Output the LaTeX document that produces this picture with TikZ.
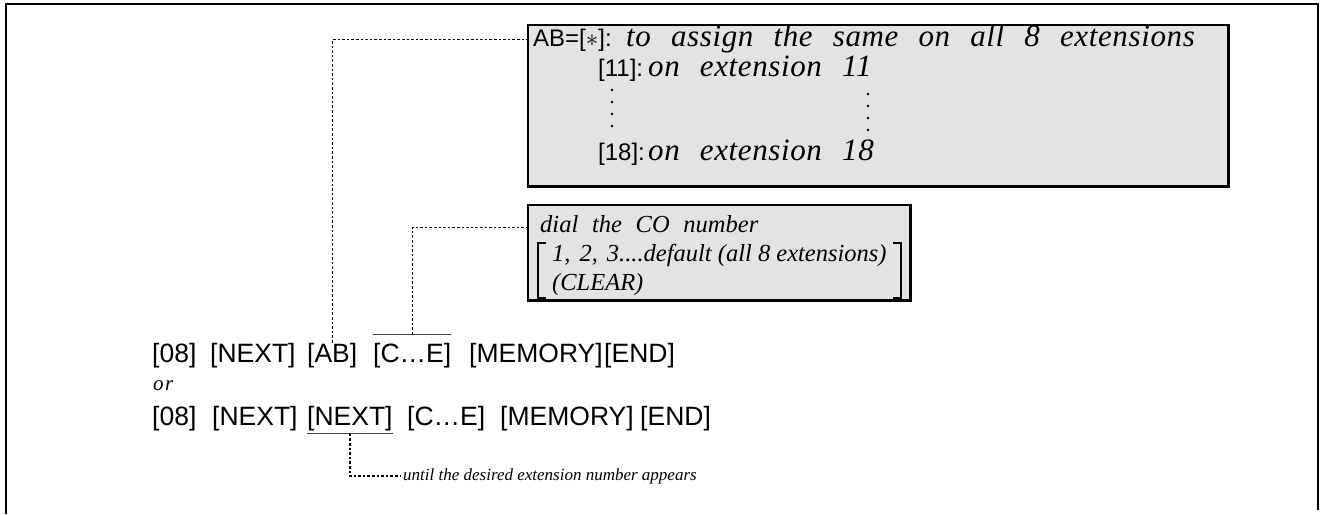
\documentclass[tikz,border=0pt]{standalone}
\usepackage{fontspec}
\setmainfont{Liberation Serif}
\newfontfamily\keyfont{Liberation Sans}
\newfontfamily\notefont[LetterSpace=2]{Liberation Serif}
\newcommand\widespace[1]{\spaceskip=#1em\relax}
\usetikzlibrary{positioning}

\begin{document}
\begin{tikzpicture}[
  x=1pt,y=-1pt,
  key/.style={font=\keyfont\fontsize{26.5}{30}\selectfont,inner sep=0pt,anchor=base west},
  boxkey/.style={font=\keyfont\fontsize{24}{28}\selectfont,inner sep=0pt,anchor=base west},
  note/.style={font=\notefont\itshape\fontsize{31}{30}\selectfont\widespace{0.65},inner sep=0pt,anchor=base west},
  coline/.style={font=\itshape\fontsize{24.5}{28}\selectfont,inner sep=0pt,anchor=base west},
  hint/.style={font=\itshape\fontsize{17}{20}\selectfont,inner sep=0pt,anchor=base west},
  panel/.style={draw,line width=1.3pt,fill=gray!22,inner sep=0pt},
  leader/.style={line width=1.3pt,dash pattern=on 2.6pt off 2pt},
  keyrule/.style={line width=1.2pt,black!75}
]
\useasboundingbox (0,0) rectangle (1322,514);
% frame, open at the bottom
\draw[line width=1.8pt] (6,514) -- (6,4) -- (1318,4) -- (1318,510);

% the two option panels
\node[panel,minimum width=700pt,minimum height=161pt] (abbox) at (878,105.5) {};
\draw[line width=2.4pt] (abbox.north east) -- (abbox.south east) -- (abbox.south west);
\node[panel,minimum width=382pt,minimum height=95pt] (cobox) at (719,252.5) {};
\draw[line width=2.4pt] (cobox.north east) -- (cobox.south east) -- (cobox.south west);

% AB panel
\node[boxkey,inner xsep=5pt] (abl) at (528,46) {AB=[{\fontsize{30}{30}\selectfont$\ast$}]:};
\node[note] (assign) at (626,46) {to assign the same on all 8 extensions};
\node[boxkey] (k11) at (598,76) {[11]:};
\node[note] (on11) at (648,76) {on extension 11};
% vertical ellipses between [11] and [18]
\foreach \y in {90,102,114,126} {
  \fill (612,\y) circle[radius=1.3pt];
  \fill (868,\y+4) circle[radius=1.3pt];
}
\node[boxkey] (k18) at (598,160) {[18]:};
\node[note] (on18) at (648,160) {on extension 18};

% CO panel
\node[coline,inner xsep=12pt] (dial) at (528,232) {\widespace{0.56}dial the CO number};
\node[coline] (series) at (552,261) {1,\hspace{9pt}2,\hspace{9pt}3....default (all 8 extensions)};
\node[coline] (clr) at (552,290) {(CLEAR)};
\draw[line width=1.4pt] (546,243) -- (538,243) -- (538,298) -- (546,298);
\draw[line width=1.4pt] (893,243) -- (901,243) -- (901,298) -- (893,298);

% key sequences
\node[key] (a08) at (152,362) {[08]};
\node[key] (anext) at (210,362) {[NEXT]};
\node[key] (aab) at (307,362) {[AB]};
\node[key,inner ysep=8pt] (ace) at (373,362) {[C…E]};
\node[key] (amem) at (469,362) {[MEMORY]};
\node[key] (aend) at (604,362) {[END]};
\draw[keyrule] (ace.north west) -- (ace.north east);

\node[font=\itshape\fontsize{21}{24}\selectfont,inner sep=0pt,anchor=base west] (or) at (153,390) {o\kern1.5pt r};

\node[key] (b08) at (152,425) {[08]};
\node[key] (bnext) at (212,425) {[NEXT]};
\node[key,inner ysep=3pt] (bnext2) at (307,425) {[NEXT]};
\node[key] (bce) at (407,425) {[C…E]};
\node[key] (bmem) at (500,425) {[MEMORY]};
\node[key] (bend) at (640,425) {[END]};
\draw[keyrule] (bnext2.south west) -- (bnext2.south east);

\node[hint,inner xsep=2pt] (until) at (401,480) {until the desired extension number appears};

% leaders
\draw[leader] (aab.north) |- (abl.west);
\draw[leader] (ace.north) |- ([yshift=-4pt]dial.west);
\draw[leader] (bnext2.south) |- (until.west);
\end{tikzpicture}
\end{document}
